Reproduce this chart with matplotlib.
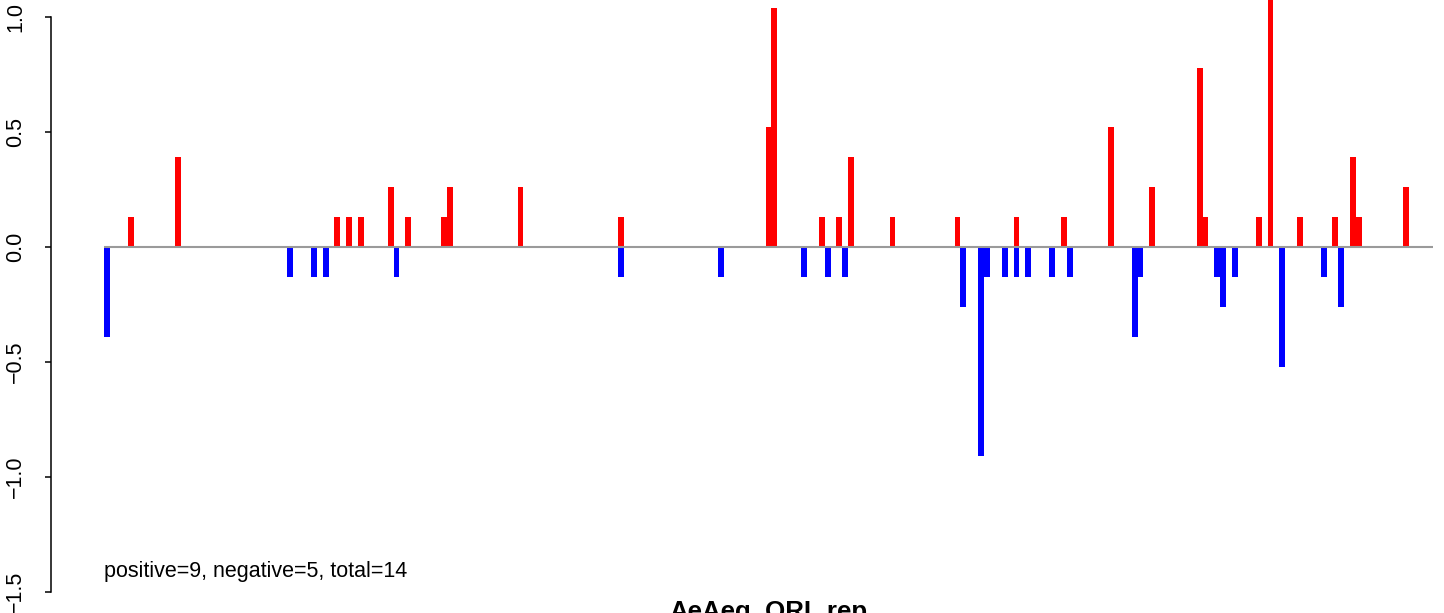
import matplotlib
matplotlib.use("Agg")
import matplotlib.pyplot as plt
from matplotlib import transforms

plt.rcParams['font.family'] = ['Liberation Sans', 'DejaVu Sans']

# ---------------- data ----------------
n_positions = 225
pos_index = [4, 12, 39, 41, 43, 48, 51, 57, 58, 70, 87, 112, 113, 121, 124, 126,
             133, 144, 154, 162, 170, 177, 185, 186, 195, 197, 202, 208, 211, 212, 220]
pos_value = [0.13, 0.39, 0.13, 0.13, 0.13, 0.26, 0.13, 0.13, 0.26, 0.26, 0.13, 0.52,
             1.04, 0.13, 0.13, 0.39, 0.13, 0.13, 0.13, 0.13, 0.52, 0.26, 0.78, 0.13,
             0.13, 1.17, 0.13, 0.13, 0.39, 0.13, 0.26]
neg_index = [0, 31, 35, 37, 49, 87, 104, 118, 122, 125, 145, 148, 149, 152, 154, 156,
             160, 163, 174, 175, 188, 189, 191, 199, 206, 209]
neg_value = [-0.39, -0.13, -0.13, -0.13, -0.13, -0.13, -0.13, -0.13, -0.13, -0.13,
             -0.26, -0.91, -0.13, -0.13, -0.13, -0.13, -0.13, -0.13, -0.39, -0.13,
             -0.13, -0.26, -0.13, -0.52, -0.13, -0.26]
y_ticks = [-1.5, -1.0, -0.5, 0.0, 0.5, 1.0]
y_tick_labels = ['\u22121.5', '\u22121.0', '\u22120.5', '0.0', '0.5', '1.0']
summary_text = 'positive=9, negative=5, total=14'
title_text = 'AeAeg_ORL.rep'

# ---------------- layout ----------------
W, H = 1444, 613
fig = plt.figure(figsize=(W / 100, H / 100), dpi=100)
ax_left_px, ax_right_px = 51, 1486
ax_top_px, ax_bottom_px = -6, 615
ax = fig.add_axes([ax_left_px / W, (H - ax_bottom_px) / H,
                   (ax_right_px - ax_left_px) / W, (ax_bottom_px - ax_top_px) / H])
ax.set_xlim(-0.04 * n_positions, n_positions * 1.04)
ax.set_ylim(-1.6, 1.1)
ax.patch.set_alpha(0)

ax.bar(pos_index, pos_value, width=1.0, align='edge', color='#FF0000',
       linewidth=0, zorder=2)
ax.bar(neg_index, neg_value, width=1.0, align='edge', color='#0000FF',
       linewidth=0, zorder=2)
ax.hlines(0, 0, n_positions, color='#9A9A9A', linewidth=1.5, zorder=3)

for s in ['top', 'right', 'bottom']:
    ax.spines[s].set_visible(False)
ax.spines['left'].set_bounds(-1.5, 1.0)
ax.spines['left'].set_linewidth(1.1)
ax.set_xticks([])
ax.set_yticks(y_ticks)
ax.tick_params(axis='y', length=4.3, width=1.1, labelleft=False)

lab_trans = transforms.blended_transform_factory(fig.transFigure, ax.transData)
for v, t in zip(y_ticks, y_tick_labels):
    ax.text(21 / W, v, t, transform=lab_trans, rotation=90, rotation_mode='anchor',
            ha='center', va='baseline', fontsize=15.5, clip_on=False)

ax.text(0, -1.435, summary_text, ha='left', va='baseline', fontsize=15.5)

title_trans = transforms.blended_transform_factory(ax.transAxes, fig.transFigure)
ax.text(0.5, (H - 618.5) / H, title_text, transform=title_trans, ha='center',
        va='baseline', fontsize=18.6, fontweight='bold', clip_on=False)

fig.savefig('out.png', dpi=100)
